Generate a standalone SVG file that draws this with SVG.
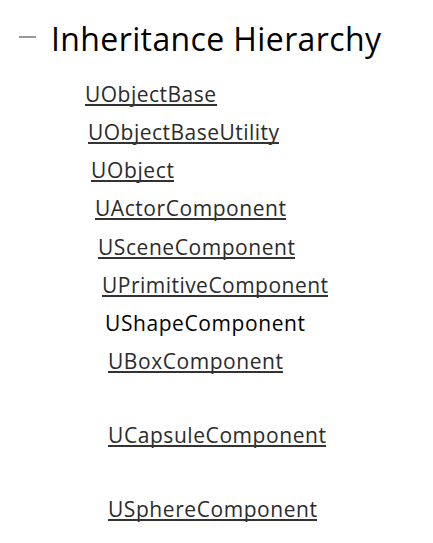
<svg xmlns="http://www.w3.org/2000/svg" width="433" height="543" viewBox="0 0 433 543">
<style>
.t{font-family:"Open Sans","Noto Sans",sans-serif;font-size:21px;fill:#2b2b2b}
.p{font-family:"Open Sans","Noto Sans",sans-serif;font-size:21px;fill:#000}
.h{font-family:"Open Sans","Noto Sans",sans-serif;font-size:32px;fill:#000}
.u{stroke:#333;stroke-width:2}
</style>
<rect width="433" height="543" fill="#fff"/>
<g id="header">
<line x1="19" y1="37" x2="36" y2="37" stroke="#777" stroke-width="1.5"/>
<text class="h" x="51" y="51" textLength="330" lengthAdjust="spacing">Inheritance Hierarchy</text>
</g>
<g id="n1"><text class="t" x="85" y="102" textLength="131" lengthAdjust="spacing">UObjectBase</text><line class="u" x1="85" y1="105" x2="217" y2="105"/></g>
<g id="n2"><text class="t" x="88" y="140" textLength="191" lengthAdjust="spacing">UObjectBaseUtility</text><line class="u" x1="88" y1="143" x2="279" y2="143"/></g>
<g id="n3"><text class="t" x="91" y="178" textLength="83" lengthAdjust="spacing">UObject</text><line class="u" x1="91" y1="181" x2="174" y2="181"/></g>
<g id="n4"><text class="t" x="95" y="216" textLength="191" lengthAdjust="spacing">UActorComponent</text><line class="u" x1="95" y1="219" x2="286" y2="219"/></g>
<g id="n5"><text class="t" x="98" y="255" textLength="197" lengthAdjust="spacing">USceneComponent</text><line class="u" x1="98" y1="258" x2="295" y2="258"/></g>
<g id="n6"><text class="t" x="102" y="293" textLength="226" lengthAdjust="spacing">UPrimitiveComponent</text><line class="u" x1="102" y1="296" x2="328" y2="296"/></g>
<g id="n7"><text class="p" x="105" y="331" textLength="200" lengthAdjust="spacing">UShapeComponent</text></g>
<g id="n8"><text class="t" x="108" y="369" textLength="175" lengthAdjust="spacing">UBoxComponent</text><line class="u" x1="108" y1="372" x2="283" y2="372"/></g>
<g id="n9"><text class="t" x="108" y="443" textLength="218" lengthAdjust="spacing">UCapsuleComponent</text><line class="u" x1="108" y1="446" x2="326" y2="446"/></g>
<g id="n10"><text class="t" x="108" y="517" textLength="209" lengthAdjust="spacing">USphereComponent</text><line class="u" x1="108" y1="520" x2="317" y2="520"/></g>
<g id="connectors"></g>
</svg>
